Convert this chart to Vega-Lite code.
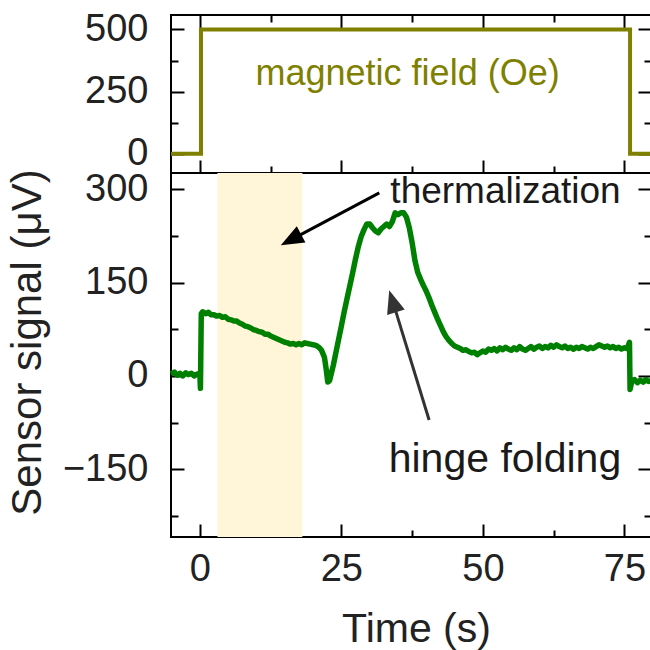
{
  "$schema": "https://vega.github.io/schema/vega-lite/v6.json",
  "background": "white",
  "padding": {"left": 4, "top": 9, "right": 0, "bottom": 0},
  "spacing": 0,
  "bounds": "flush",
  "config": {
    "font": "Liberation Sans",
    "view": {"stroke": "black", "strokeWidth": 2},
    "axis": {
      "domain": false, "grid": false, "tickColor": "black", "tickWidth": 2,
      "labelFont": "Liberation Sans", "labelFontSize": 38, "labelColor": "#222222",
      "titleFont": "Liberation Sans", "titleFontSize": 41, "titleColor": "#222222", "titleFontWeight": "normal",
      "zindex": 1, "labelFlush": false, "labelOverlap": false
    }
  },
  "vconcat": [
    {
      "width": 480, "height": 158,
      "layer": [
        {
          "data": {"values": [{"t": -5.1, "field": 0}, {"t": 0.2, "field": 500}, {"t": 76.0, "field": 0}, {"t": 79.7, "field": 0}]},
          "mark": {"type": "line", "interpolate": "step-after", "color": "#808000", "strokeWidth": 4},
          "encoding": {
            "x": {"field": "t", "type": "quantitative", "scale": {"domain": [-5.1, 79.7], "nice": false, "zero": false},
              "axis": {"orient": "bottom", "values": [0, 12.5, 25, 37.5, 50, 62.5, 75], "labels": false, "title": null,
                "tickSize": {"condition": {"test": "datum.value % 25 === 0", "value": -13}, "value": -7}}},
            "y": {"field": "field", "type": "quantitative", "scale": {"domain": [-77, 558], "nice": false, "zero": false},
              "axis": {"orient": "left", "values": [0, 125, 250, 375, 500], "title": null, "labelPadding": 36,
                "labelExpr": "datum.value % 250 === 0 ? datum.label : ''",
                "tickSize": {"condition": {"test": "datum.value % 250 === 0", "value": -13}, "value": -7}}}
          }
        },
        {
          "data": {"values": [{"t": 36.7, "v": 278, "label": "magnetic field (Oe)"}]},
          "mark": {"type": "text", "color": "#808000", "fontSize": 36, "baseline": "alphabetic", "align": "center"},
          "encoding": {
            "x": {"field": "t", "type": "quantitative",
              "axis": {"orient": "top", "values": [0, 12.5, 25, 37.5, 50, 62.5, 75], "labels": false, "title": null,
                "tickSize": {"condition": {"test": "datum.value % 25 === 0", "value": -13}, "value": -7}}},
            "y": {"field": "v", "type": "quantitative",
              "axis": {"orient": "right", "values": [0, 125, 250, 375, 500], "labels": false, "title": null,
                "tickSize": {"condition": {"test": "datum.value % 250 === 0", "value": -13}, "value": -7}}},
            "text": {"field": "label"}
          }
        }
      ],
      "resolve": {"axis": {"x": "independent", "y": "independent"}}
    },
    {
      "width": 480, "height": 364,
      "layer": [
        {
          "data": {"values": [{"start": 3.1, "end": 18.1}]},
          "mark": {"type": "rect", "color": "#fff5d9"},
          "encoding": {
            "x": {"field": "start", "type": "quantitative", "axis": null},
            "x2": {"field": "end"}
          }
        },
        {
          "data": {"values": [
            {"t": -5.1, "v": 3}, {"t": -4.5, "v": 6}, {"t": -4.0, "v": 1}, {"t": -3.5, "v": 4}, {"t": -3.0, "v": 0},
            {"t": -2.5, "v": 5}, {"t": -2.0, "v": 2}, {"t": -1.5, "v": 4}, {"t": -1.0, "v": 0}, {"t": -0.5, "v": 3},
            {"t": 0.0, "v": 2}, {"t": 0.1, "v": -20}, {"t": 0.25, "v": 100}, {"t": 0.5, "v": 103}, {"t": 1.0, "v": 100},
            {"t": 1.5, "v": 102}, {"t": 2.0, "v": 98}, {"t": 2.5, "v": 98}, {"t": 3.0, "v": 96}, {"t": 3.5, "v": 97},
            {"t": 4.0, "v": 94}, {"t": 4.5, "v": 95}, {"t": 5.0, "v": 91}, {"t": 5.5, "v": 90}, {"t": 6.0, "v": 88},
            {"t": 6.5, "v": 88}, {"t": 7.0, "v": 85}, {"t": 7.5, "v": 83}, {"t": 8.0, "v": 80}, {"t": 8.5, "v": 79},
            {"t": 9.0, "v": 77}, {"t": 9.5, "v": 74}, {"t": 10.0, "v": 73}, {"t": 10.5, "v": 71}, {"t": 11.0, "v": 70},
            {"t": 11.5, "v": 67}, {"t": 12.0, "v": 67}, {"t": 12.5, "v": 64}, {"t": 13.0, "v": 62}, {"t": 13.5, "v": 60},
            {"t": 14.0, "v": 58}, {"t": 14.5, "v": 56}, {"t": 15.0, "v": 54}, {"t": 15.5, "v": 53}, {"t": 16.0, "v": 51},
            {"t": 16.5, "v": 52}, {"t": 17.0, "v": 50}, {"t": 17.5, "v": 52}, {"t": 18.0, "v": 50}, {"t": 18.5, "v": 53},
            {"t": 19.0, "v": 52}, {"t": 19.5, "v": 51}, {"t": 20.0, "v": 50}, {"t": 20.5, "v": 49}, {"t": 21.0, "v": 46},
            {"t": 21.5, "v": 41}, {"t": 22.0, "v": 30}, {"t": 22.3, "v": 12}, {"t": 22.6, "v": -10}, {"t": 22.9, "v": -8},
            {"t": 23.2, "v": 3}, {"t": 23.6, "v": 18}, {"t": 24.0, "v": 36}, {"t": 24.5, "v": 58}, {"t": 25.0, "v": 80},
            {"t": 25.5, "v": 103}, {"t": 26.0, "v": 124}, {"t": 26.5, "v": 145}, {"t": 27.0, "v": 166}, {"t": 27.5, "v": 188},
            {"t": 28.0, "v": 208}, {"t": 28.5, "v": 224}, {"t": 29.0, "v": 235}, {"t": 29.5, "v": 244}, {"t": 30.0, "v": 244},
            {"t": 30.5, "v": 238}, {"t": 31.0, "v": 233}, {"t": 31.5, "v": 230}, {"t": 32.0, "v": 236}, {"t": 32.5, "v": 240},
            {"t": 33.0, "v": 244}, {"t": 33.5, "v": 240}, {"t": 34.0, "v": 248}, {"t": 34.5, "v": 262}, {"t": 35.0, "v": 259},
            {"t": 35.5, "v": 262}, {"t": 36.0, "v": 262}, {"t": 36.5, "v": 255}, {"t": 37.0, "v": 238}, {"t": 37.5, "v": 214},
            {"t": 38.0, "v": 185}, {"t": 38.5, "v": 166}, {"t": 39.0, "v": 155}, {"t": 39.5, "v": 145}, {"t": 40.0, "v": 136},
            {"t": 40.5, "v": 125}, {"t": 41.0, "v": 113}, {"t": 41.5, "v": 102}, {"t": 42.0, "v": 91}, {"t": 42.5, "v": 81},
            {"t": 43.0, "v": 71}, {"t": 43.5, "v": 63}, {"t": 44.0, "v": 57}, {"t": 44.5, "v": 52}, {"t": 45.0, "v": 48},
            {"t": 45.5, "v": 46}, {"t": 46.0, "v": 44}, {"t": 46.5, "v": 41}, {"t": 47.0, "v": 42}, {"t": 47.5, "v": 39},
            {"t": 48.0, "v": 37}, {"t": 48.5, "v": 38}, {"t": 49.0, "v": 34}, {"t": 49.5, "v": 37}, {"t": 50.0, "v": 40},
            {"t": 50.5, "v": 38}, {"t": 51.0, "v": 43}, {"t": 51.5, "v": 41}, {"t": 52.0, "v": 44}, {"t": 52.5, "v": 40},
            {"t": 53.0, "v": 45}, {"t": 53.5, "v": 42}, {"t": 54.0, "v": 46}, {"t": 54.5, "v": 43}, {"t": 55.0, "v": 41},
            {"t": 55.5, "v": 45}, {"t": 56.0, "v": 42}, {"t": 56.5, "v": 47}, {"t": 57.0, "v": 43}, {"t": 57.5, "v": 41},
            {"t": 58.0, "v": 44}, {"t": 58.5, "v": 47}, {"t": 59.0, "v": 43}, {"t": 59.5, "v": 46}, {"t": 60.0, "v": 48},
            {"t": 60.5, "v": 44}, {"t": 61.0, "v": 47}, {"t": 61.5, "v": 45}, {"t": 62.0, "v": 49}, {"t": 62.5, "v": 46},
            {"t": 63.0, "v": 50}, {"t": 63.5, "v": 47}, {"t": 64.0, "v": 45}, {"t": 64.5, "v": 48}, {"t": 65.0, "v": 44},
            {"t": 65.5, "v": 46}, {"t": 66.0, "v": 43}, {"t": 66.5, "v": 46}, {"t": 67.0, "v": 44}, {"t": 67.5, "v": 47},
            {"t": 68.0, "v": 45}, {"t": 68.5, "v": 43}, {"t": 69.0, "v": 46}, {"t": 69.5, "v": 44}, {"t": 70.0, "v": 47},
            {"t": 70.5, "v": 50}, {"t": 71.0, "v": 48}, {"t": 71.5, "v": 46}, {"t": 72.0, "v": 48}, {"t": 72.5, "v": 45},
            {"t": 73.0, "v": 47}, {"t": 73.5, "v": 44}, {"t": 74.0, "v": 46}, {"t": 74.5, "v": 43}, {"t": 75.0, "v": 45},
            {"t": 75.5, "v": 44}, {"t": 75.9, "v": 54}, {"t": 76.0, "v": -22}, {"t": 76.3, "v": -9}, {"t": 76.8, "v": -6},
            {"t": 77.3, "v": -11}, {"t": 77.8, "v": -7}, {"t": 78.3, "v": -10}, {"t": 78.8, "v": -6}, {"t": 79.3, "v": -9},
            {"t": 79.7, "v": -8}
          ]},
          "mark": {"type": "line", "color": "#008000", "strokeWidth": 5.5, "strokeJoin": "round"},
          "encoding": {
            "x": {"field": "t", "type": "quantitative", "scale": {"domain": [-5.1, 79.7], "nice": false, "zero": false},
              "axis": {"orient": "bottom", "values": [0, 12.5, 25, 37.5, 50, 62.5, 75], "labelPadding": 26,
                "labelExpr": "datum.value % 25 === 0 ? datum.label : ''",
                "tickSize": {"condition": {"test": "datum.value % 25 === 0", "value": -13}, "value": -7},
                "title": "Time (s)", "titleX": 245, "titleY": 104, "titleBaseline": "alphabetic", "titleAlign": "center"}},
            "y": {"field": "v", "type": "quantitative", "scale": {"domain": [-259, 326], "nice": false, "zero": false},
              "axis": {"orient": "left", "values": [-225, -150, -75, 0, 75, 150, 225, 300], "labelPadding": 36,
                "labelExpr": "datum.value % 150 === 0 ? datum.label : ''",
                "tickSize": {"condition": {"test": "datum.value % 150 === 0", "value": -13}, "value": -7},
                "title": "Sensor signal (μV)", "titleFontSize": 42, "titleX": -131, "titleY": 169, "titleAngle": -90,
                "titleBaseline": "alphabetic", "titleAlign": "center"}}
          }
        },
        {
          "data": {"values": [{"t": 31.7, "v": 294, "t2": 17.4, "v2": 225}]},
          "mark": {"type": "rule", "color": "#000000", "strokeWidth": 3},
          "encoding": {
            "x": {"field": "t", "type": "quantitative", "axis": null},
            "y": {"field": "v", "type": "quantitative", "axis": null},
            "x2": {"field": "t2"}, "y2": {"field": "v2"}
          }
        },
        {
          "data": {"values": [{"t": 40.5, "v": -71, "t2": 34.4, "v2": 110}]},
          "mark": {"type": "rule", "color": "#333333", "strokeWidth": 3},
          "encoding": {
            "x": {"field": "t", "type": "quantitative", "axis": null},
            "y": {"field": "v", "type": "quantitative", "axis": null},
            "x2": {"field": "t2"}, "y2": {"field": "v2"}
          }
        },
        {
          "data": {"values": [{"t": 14.3, "v": 210}]},
          "mark": {"type": "point", "shape": "M0,0L-0.4,1L0.4,1Z", "size": 2116, "angle": 242, "filled": true, "color": "#000000", "opacity": 1, "strokeWidth": 0},
          "encoding": {
            "x": {"field": "t", "type": "quantitative", "axis": null},
            "y": {"field": "v", "type": "quantitative", "axis": null}
          }
        },
        {
          "data": {"values": [{"t": 33.45, "v": 137.6}]},
          "mark": {"type": "point", "shape": "M0,0L-0.4,1L0.4,1Z", "size": 2116, "angle": 343, "filled": true, "color": "#333333", "opacity": 1, "strokeWidth": 0},
          "encoding": {
            "x": {"field": "t", "type": "quantitative", "axis": null},
            "y": {"field": "v", "type": "quantitative", "axis": null}
          }
        },
        {
          "data": {"values": [
            {"t": 54.0, "v": 277, "label": "thermalization", "size": 37},
            {"t": 53.9, "v": -154.5, "label": "hinge folding", "size": 41}
          ]},
          "mark": {"type": "text", "color": "#1a1a1a", "baseline": "alphabetic", "align": "center"},
          "encoding": {
            "x": {"field": "t", "type": "quantitative", "axis": null},
            "y": {"field": "v", "type": "quantitative",
              "axis": {"orient": "right", "values": [-225, -150, -75, 0, 75, 150, 225, 300], "labels": false, "title": null,
                "tickSize": {"condition": {"test": "datum.value % 150 === 0", "value": -13}, "value": -7}}},
            "text": {"field": "label"},
            "size": {"field": "size", "type": "quantitative", "scale": null}
          }
        }
      ],
      "resolve": {"axis": {"x": "independent", "y": "independent"}}
    }
  ]
}
